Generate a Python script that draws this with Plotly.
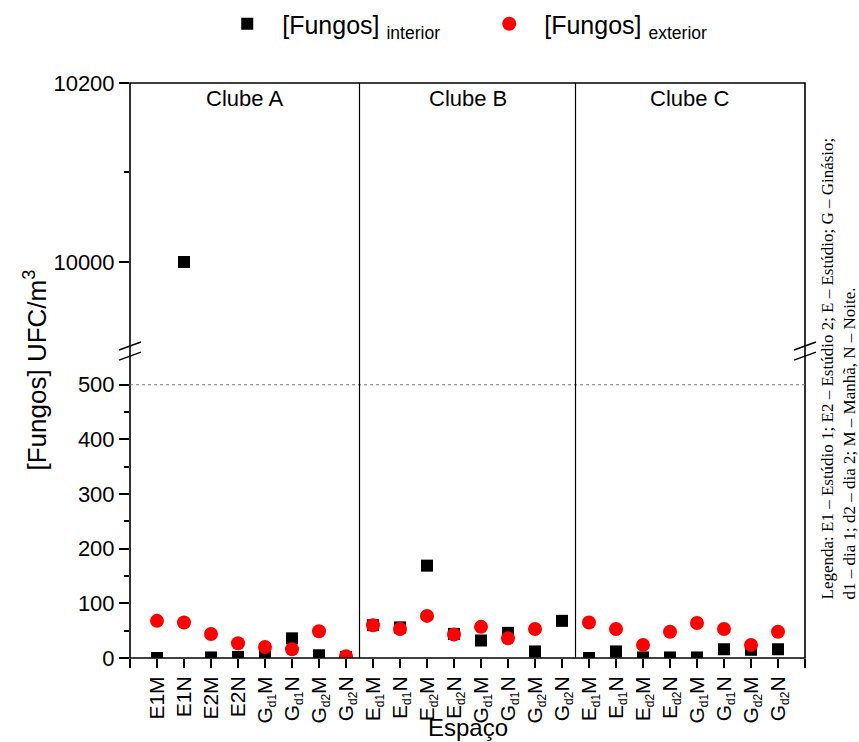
import plotly.graph_objects as go

def sub(text):
    return "<sub><span style='font-size:12px'>" + text + "</span></sub>"

# Sampling spaces, three clubs with eight spaces each
labels_a = ["E1M", "E1N", "E2M", "E2N",
            "G" + sub("d1") + "M", "G" + sub("d1") + "N",
            "G" + sub("d2") + "M", "G" + sub("d2") + "N"]
labels_bc = ["E" + sub("d1") + "M", "E" + sub("d1") + "N",
             "E" + sub("d2") + "M", "E" + sub("d2") + "N",
             "G" + sub("d1") + "M", "G" + sub("d1") + "N",
             "G" + sub("d2") + "M", "G" + sub("d2") + "N"]
space_labels = labels_a + labels_bc + labels_bc
clubs = ["Clube A", "Clube B", "Clube C"]

# Fungal concentrations (UFC/m3)
fungos_interior = [0, 10000, 1, 2, 4, 36, 5, 2,
                   60, 56, 169, 44, 32, 46, 12, 68,
                   0, 12, 1, 1, 1, 16, 15, 16]
fungos_exterior = [68, 65, 44, 27, 20, 16, 49, 3,
                   60, 53, 77, 43, 57, 36, 53, None,
                   65, 53, 24, 48, 64, 53, 24, 48]

# Broken y axis: lower and upper segments
lower_ticks = [0, 100, 200, 300, 400, 500]
upper_ticks = [10000, 10200]
lower_range = [0, 545]
upper_range = [9910.6, 10200]
reference_level = 500

x = list(range(len(space_labels)))
n_per_club = len(labels_a)

fig = go.Figure()

interior_style = dict(symbol="square", size=12, color="black")
exterior_style = dict(symbol="circle", size=14, color="#ff0000")

for axis, show in (("y", True), ("y2", False)):
    fig.add_trace(go.Scatter(
        x=x, y=fungos_interior, mode="markers", marker=interior_style,
        name="[Fungos] <sub>interior</sub>", legendgroup="int",
        showlegend=show, yaxis=axis, cliponaxis=True))
for axis, show in (("y", True), ("y2", False)):
    fig.add_trace(go.Scatter(
        x=x, y=fungos_exterior, mode="markers", marker=exterior_style,
        name="[Fungos] <sub>exterior</sub>", legendgroup="ext",
        showlegend=show, yaxis=axis, cliponaxis=True))

base = "Arial, Liberation Sans, sans-serif"
axis_font = dict(family=base, size=22, color="black")
xtick_font = dict(family=base, size=21, color="black")
split_lo, split_hi = 0.518, 0.5496

tickvals_x = [-1] + x + [len(x)]
ticktext_x = [""] + space_labels + [""]

fig.update_layout(
    width=859, height=742,
    margin=dict(l=130, r=54, t=83, b=84),
    paper_bgcolor="white", plot_bgcolor="white",
    font=axis_font,
    showlegend=True,
    legend=dict(orientation="h", x=0.51, xanchor="center", y=1 - 1 / 742,
                yanchor="top", yref="container", itemwidth=60,
                entrywidth=187, font=dict(size=25),
                bgcolor="rgba(0,0,0,0)"),
    xaxis=dict(range=[-1, len(x)], tickmode="array", tickvals=tickvals_x,
               ticktext=ticktext_x, tickangle=-90, ticks="outside",
               ticklen=9, tickwidth=1.5, tickcolor="black", showgrid=False,
               zeroline=False, showline=False, anchor="y",
               tickfont=xtick_font),
    yaxis=dict(domain=[0, split_lo], range=lower_range, tickmode="array",
               tickvals=lower_ticks, ticks="outside", ticklen=10,
               tickwidth=1.5, tickcolor="black", showgrid=False,
               zeroline=False, showline=False, tickformat="d",
               minor=dict(ticks="outside", ticklen=5, dtick=50, tick0=0,
                          tickcolor="black", tickwidth=1.5, showgrid=False),
               tickfont=axis_font),
    yaxis2=dict(domain=[split_hi, 1], range=upper_range, tickmode="array",
                tickvals=upper_ticks, ticks="outside", ticklen=10,
                tickwidth=1.5, tickcolor="black", showgrid=False,
                zeroline=False, showline=False, anchor="x", tickformat="d",
                minor=dict(ticks="outside", ticklen=5, dtick=100, tick0=10000,
                           tickcolor="black", tickwidth=1.5, showgrid=False),
                tickfont=axis_font),
)

# Frame around the whole plot area, continuous through the break
fig.add_shape(type="rect", xref="paper", yref="paper", x0=0, x1=1, y0=0, y1=1,
              line=dict(color="black", width=1.6), layer="above")

# Dotted reference line at 500
fig.add_shape(type="line", xref="paper", yref="y", x0=0, x1=1,
              y0=reference_level, y1=reference_level,
              line=dict(color="#777777", width=1, dash="dot"))

# Club separators and labels (labels centred on each club's span)
edges = [-1] + [k * n_per_club - 0.5 for k in range(1, len(clubs))] + [len(x)]
for xs in edges[1:-1]:
    fig.add_shape(type="line", xref="x", yref="paper", x0=xs, x1=xs, y0=0, y1=1,
                  line=dict(color="black", width=1.2), layer="above")
for k, club in enumerate(clubs):
    xc = (edges[k] + edges[k + 1]) / 2
    fig.add_annotation(x=xc, y=1, xref="x", yref="paper", text=club,
                       showarrow=False, yanchor="top", yshift=-1,
                       font=dict(size=22))

# Break marks on both vertical axes
pw, ph = 675, 575
for xp in (0, 1):
    for yc in (0.5426, 0.525):
        fig.add_shape(type="line", xref="paper", yref="paper",
                      x0=xp - 11 / pw, x1=xp + 11 / pw,
                      y0=yc - 4 / ph, y1=yc + 4 / ph,
                      line=dict(color="black", width=1.5), layer="above")

# Axis titles
fig.add_annotation(text="[Fungos] UFC/m<sup>3</sup>", xref="paper", yref="paper",
                   x=(17 - 130) / pw, xanchor="left",
                   y=(658 - 370) / ph, yanchor="middle", textangle=-90,
                   showarrow=False, font=dict(size=26))
fig.add_annotation(text="Espaço", xref="paper", yref="paper",
                   x=0.5, xanchor="center", y=(658 - 727) / ph,
                   yanchor="middle", showarrow=False, font=dict(size=24))

# Abbreviation key on the right
fig.add_annotation(
    text="Legenda: E1 – Estúdio 1; E2 – Estúdio 2; E – Estúdio; G – Ginásio;<br>"
         "d1 – dia 1; d2 – dia 2; M – Manhã, N – Noite.",
    xref="paper", yref="paper", x=1 + 55 / pw, xanchor="right",
    y=(658 - 369) / ph, yanchor="middle",
    textangle=-90, showarrow=False, align="left",
    font=dict(family="Liberation Serif, Times New Roman, serif", size=17))

fig.write_html("out.html")
